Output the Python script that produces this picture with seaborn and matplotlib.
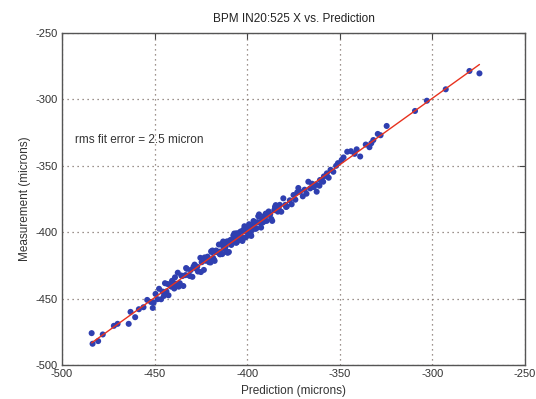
import numpy as np
import pandas as pd
import matplotlib
matplotlib.use("Agg")
import matplotlib.pyplot as plt
import seaborn as sns

# ---- data (microns) ----
pred_sparse_low = [-484.0, -483.5, -480.5, -478.0, -472.0, -470.0, -464.0, -463.0, -460.5,
                   -458.5, -456.0, -454.0, -452.0, -451.0, -450.5]
meas_sparse_low = [-476.0, -484.0, -482.0, -477.0, -470.5, -469.0, -469.0, -460.0, -464.0,
                   -458.0, -456.5, -451.0, -452.5, -457.0, -453.0]

pred_dense_a = [-449.5, -448.4, -447.6, -446.5, -445.7, -444.4, -443.6, -442.5, -441.3, -440.6,
                -439.4, -438.7, -437.5, -436.4, -435.6, -434.5, -433.3, -432.6, -431.4, -430.5,
                -429.6, -428.4, -427.5, -426.6, -425.3, -424.6, -423.4, -422.5, -421.4, -420.6,
                -419.5, -418.4, -417.6, -416.5, -415.3, -414.6, -413.5, -412.4, -411.6, -410.5,
                -409.4, -408.6, -407.5, -406.4, -405.6, -404.5, -403.3, -402.6, -401.5, -400.4,
                -399.6, -398.5, -397.4, -396.6, -395.5, -394.4, -393.6, -392.5, -391.4, -390.6,
                -389.5, -388.4, -387.6, -386.5, -385.4, -384.6, -383.5, -382.4, -381.6, -380.5,
                -379.4, -378.6]
meas_dense_a = [-446.5, -450.4, -442.6, -450.5, -444.7, -438.4, -444.6, -447.5, -439.3, -436.6,
                -442.4, -438.7, -430.5, -438.4, -432.6, -440.5, -432.3, -427.6, -432.4, -428.5,
                -433.6, -424.4, -427.5, -429.6, -419.3, -422.6, -428.4, -421.5, -418.4, -422.6,
                -414.5, -419.4, -421.6, -414.5, -409.3, -414.6, -416.5, -408.4, -410.6, -415.5,
                -406.4, -409.6, -402.5, -404.4, -407.6, -404.5, -399.3, -406.6, -395.5, -399.4,
                -402.6, -395.5, -398.4, -391.6, -397.5, -392.4, -386.6, -396.5, -391.4, -387.6,
                -391.5, -384.4, -386.6, -391.5, -383.4, -379.6, -384.5, -379.4, -384.6, -374.5,
                -379.4, -380.6]

pred_dense_b = [-419.0, -417.9, -416.8, -415.8, -414.7, -413.9, -412.9, -411.9, -410.9, -409.9,
                -409.0, -408.0, -407.0, -406.0, -405.0, -404.0, -403.0, -402.0, -401.0, -400.0,
                -399.0, -398.0, -397.0, -396.0, -395.0, -394.0, -393.0, -392.0, -391.0, -390.0,
                -388.9]
meas_dense_b = [-415.0, -420.9, -413.8, -414.8, -416.7, -408.9, -410.9, -412.9, -406.9, -414.9,
                -406.0, -408.0, -401.0, -408.0, -404.0, -400.0, -404.0, -399.0, -404.0, -398.0,
                -394.0, -402.0, -396.0, -393.0, -397.0, -388.0, -393.0, -390.0, -392.0, -386.0,
                -385.9]

pred_dense_c = [-445.0, -443.0, -441.0, -439.0, -437.0, -435.0, -433.0, -431.0, -429.0, -427.0,
                -425.0, -423.0, -421.0, -419.8, -418.8, -417.0, -415.0, -413.0, -411.0, -409.0,
                -407.8, -405.8, -403.8, -401.8, -399.8, -397.8, -395.8, -393.8, -391.8, -389.0,
                -387.0, -385.0, -383.0]
meas_dense_c = [-448.0, -439.0, -441.0, -434.0, -441.0, -433.0, -427.0, -433.0, -426.0, -426.0,
                -430.0, -419.0, -421.0, -422.8, -413.8, -415.0, -416.0, -407.0, -415.0, -406.0,
                -407.8, -400.8, -405.8, -397.8, -398.8, -402.8, -392.8, -387.8, -392.8, -387.0,
                -390.0, -381.0, -382.0]

pred_upper = [-379.0, -377.0, -376.0, -375.0, -374.0, -373.0, -372.4, -371.5, -370.0, -369.0,
              -368.0, -367.0, -366.0, -365.0, -364.0, -363.0, -362.5, -361.0, -360.7, -359.0,
              -358.6, -357.0, -356.0, -355.0, -353.5, -352.0, -351.0, -349.0, -348.0, -346.0,
              -344.0, -342.0, -340.9, -339.0, -336.0, -334.0, -333.0, -331.9, -329.5, -328.0,
              -324.7, -309.4, -303.0, -292.8, -280.0, -274.6]
meas_upper = [-381.0, -376.0, -379.0, -372.0, -375.5, -370.0, -366.7, -369.5, -373.0, -368.0,
              -371.0, -362.0, -367.0, -363.5, -366.0, -364.0, -369.5, -365.0, -360.7, -362.0,
              -358.0, -355.7, -359.0, -353.0, -354.5, -350.0, -348.0, -345.6, -343.7, -339.4,
              -339.0, -341.0, -337.6, -343.0, -334.0, -336.0, -333.0, -330.6, -326.0, -327.0,
              -320.0, -308.7, -301.0, -292.4, -278.6, -280.4]

prediction = pred_sparse_low + pred_dense_a + pred_dense_b + pred_dense_c + pred_upper
measurement = meas_sparse_low + meas_dense_a + meas_dense_b + meas_dense_c + meas_upper

title = "BPM IN20:525 X vs. Prediction"
xlabel = "Prediction (microns)"
ylabel = "Measurement (microns)"
note = "rms fit error = 2.5 micron"
ticks = [-500, -450, -400, -350, -300, -250]

df = pd.DataFrame({"prediction": prediction, "measurement": measurement})

sns.set_theme(style="white")
plt.rcParams["font.family"] = ["Liberation Sans", "DejaVu Sans"]

fig = plt.figure(figsize=(5.36, 3.99), dpi=100)
ax = fig.add_axes([0.1157, 0.0852, 0.8638, 0.8321])

sns.scatterplot(data=df, x="prediction", y="measurement", ax=ax,
                color="#2f3fb0", s=19, edgecolor="none", linewidth=0, zorder=3)

# linear fit line
coef = np.polyfit(df["prediction"], df["measurement"], 1)
xs = np.array([df["prediction"].min(), df["prediction"].max()])
sns.lineplot(x=xs, y=np.polyval(coef, xs), ax=ax, color="#e8321e", linewidth=1.0, zorder=4)

ax.set_xlim(-500, -250)
ax.set_ylim(-500, -250)
ax.set_xticks(ticks)
ax.set_yticks(ticks)
ax.set_xticklabels([str(t) for t in ticks])
ax.set_yticklabels([str(t) for t in ticks])
ax.grid(True, linestyle=(0, (1, 3)), color="#7d6f68", linewidth=0.9)
ax.tick_params(direction="in", top=True, right=True, length=4, width=0.8,
               color="#444444", labelsize=8, labelcolor="#333333")
ax.tick_params(axis="x", pad=3)
ax.tick_params(axis="y", pad=3)
for s in ax.spines.values():
    s.set_color("#555555")
    s.set_linewidth(1.0)

ax.set_title(title, fontsize=8.5, color="#222222", pad=8)
ax.set_xlabel(xlabel, fontsize=8.5, color="#333333", labelpad=4)
ax.set_ylabel(ylabel, fontsize=8.5, color="#333333", labelpad=3)
ax.text(-493, -330.5, note, fontsize=8.5, color="#333333", ha="left", va="center")

fig.savefig("out.png", dpi=100)
